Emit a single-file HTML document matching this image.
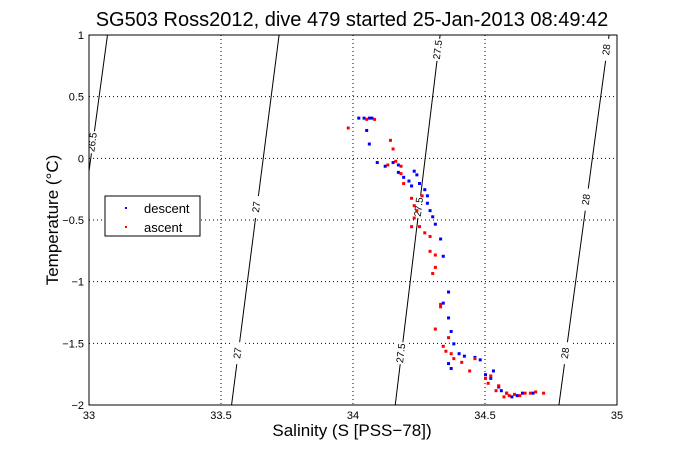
<!DOCTYPE html>
<html><head><meta charset="utf-8"><style>
body{margin:0;background:#fff;width:681px;height:454px;overflow:hidden}
svg{font-family:"Liberation Sans",sans-serif}
</style></head><body>
<svg id="chart" width="681" height="454" xmlns="http://www.w3.org/2000/svg">
<defs><clipPath id="pc"><rect x="89" y="35" width="528" height="370"/></clipPath></defs>
<text x="352" y="26" font-size="20" text-anchor="middle">SG503 Ross2012, dive 479 started 25-Jan-2013 08:49:42</text>
<text x="352" y="436" font-size="17" text-anchor="middle">Salinity (S [PSS−78])</text>
<text transform="translate(58,220) rotate(-90)" font-size="17" text-anchor="middle">Temperature (°C)</text>
<g id="grid"></g><g id="contours" clip-path="url(#pc)"></g><g id="marks"></g><g id="axes"></g>
<g>
<rect x="105" y="196" width="95" height="40" fill="#fff" stroke="#000" stroke-width="1"/>
<rect x="125" y="207" width="2" height="2" fill="#00f"/>
<text x="144" y="213" font-size="13">descent</text>
<rect x="125" y="226" width="2" height="2" fill="#f00"/>
<text x="144" y="232" font-size="13">ascent</text>
</g>
</svg>
<script>
const xTicks=[33,33.5,34,34.5,35];
const yTicks=[-2,-1.5,-1,-0.5,0,0.5,1];
const xTickLabels=["33","33.5","34","34.5","35"];
const yTickLabels=["−2","−1.5","−1","−0.5","0","0.5","1"];
const contourLevels=["26.5","27","27.5","28"];
const contourBottomS=[32.88,33.54,34.16,34.78];
const contourTopS=[33.07,33.72,34.33,34.97];
const labelFracs=[[0.71],[0.14,0.535],[0.14,0.535,0.96],[0.14,0.555,0.96]];
const descentS=[34.02,34.04,34.06,34.07,34.05,34.06,34.09,34.12,34.15,34.17,34.17,34.19,34.21,34.23,34.24,34.25,34.22,34.27,34.28,34.28,34.29,34.30,34.31,34.33,34.34,34.36,34.34,34.36,34.37,34.38,34.40,34.36,34.37,34.42,34.46,34.48,34.50,34.52,34.55,34.58,34.60,34.64,34.68,34.53,34.56,34.62];
const descentT=[0.33,0.33,0.33,0.33,0.23,0.12,-0.03,-0.06,-0.03,-0.05,-0.11,-0.15,-0.18,-0.1,-0.13,-0.2,-0.22,-0.25,-0.3,-0.36,-0.42,-0.47,-0.53,-0.65,-0.79,-1.08,-1.17,-1.29,-1.4,-1.5,-1.58,-1.66,-1.7,-1.6,-1.61,-1.63,-1.75,-1.78,-1.85,-1.9,-1.93,-1.9,-1.9,-1.72,-1.88,-1.92];
const ascentS=[33.98,34.05,34.08,34.14,34.15,34.16,34.13,34.18,34.18,34.19,34.22,34.23,34.24,34.26,34.23,34.22,34.25,34.27,34.29,34.29,34.31,34.31,34.30,34.33,34.33,34.31,34.36,34.34,34.35,34.37,34.38,34.41,34.44,34.46,34.50,34.51,34.54,34.57,34.59,34.61,34.65,34.69,34.72,34.52,34.55,34.58,34.63,34.67];
const ascentT=[0.25,0.32,0.32,0.15,0.08,-0.02,-0.05,-0.06,-0.12,-0.2,-0.32,-0.38,-0.42,-0.3,-0.48,-0.55,-0.55,-0.6,-0.63,-0.75,-0.78,-0.88,-0.93,-1.18,-1.2,-1.38,-1.45,-1.52,-1.56,-1.58,-1.62,-1.65,-1.72,-1.62,-1.78,-1.82,-1.88,-1.93,-1.92,-1.91,-1.9,-1.89,-1.9,-1.76,-1.84,-1.9,-1.92,-1.9];
const X0=89,X1=617,Y0=405,Y1=35;
const sx=s=>X0+(s-33)/2*(X1-X0);
const sy=t=>Y0-(t+2)/3*(Y0-Y1);
const NS="http://www.w3.org/2000/svg";
function mk(parent,tag,attrs){const e=document.createElementNS(NS,tag);for(const k in attrs)e.setAttribute(k,attrs[k]);document.getElementById(parent).appendChild(e);return e;}
xTicks.forEach((v,i)=>{
 if(i>0&&i<xTicks.length-1){const g=mk('grid','line',{x1:sx(v),x2:sx(v),y1:Y1,y2:Y0,stroke:'#000','stroke-dasharray':'1,3'});
 
 }
 const t=mk('axes','text',{x:sx(v),y:Y0+14,'font-size':11,'text-anchor':'middle'});t.textContent=xTickLabels[i];
 
 
});
yTicks.forEach((v,i)=>{
 if(i>0&&i<yTicks.length-1){const g=mk('grid','line',{x1:X0,x2:X1,y1:sy(v),y2:sy(v),stroke:'#000','stroke-dasharray':'1,3'});
 
 }
 const t=mk('axes','text',{x:X0-5,y:sy(v)+4,'font-size':11,'text-anchor':'end'});t.textContent=yTickLabels[i];
 
 
});
const box=mk('axes','rect',{x:X0,y:Y1,width:X1-X0,height:Y0-Y1,fill:'none',stroke:'#000','stroke-width':1});


contourLevels.forEach((lv,i)=>{
 const l=mk('contours','line',{x1:sx(contourBottomS[i]),y1:Y0,x2:sx(contourTopS[i]),y2:Y1,stroke:'#000','stroke-width':1});
 
 
 const ang=Math.atan2(Y0-Y1,sx(contourTopS[i])-sx(contourBottomS[i]))*180/Math.PI;
 labelFracs[i].forEach(f=>{
  const x=sx(contourBottomS[i])+(sx(contourTopS[i])-sx(contourBottomS[i]))*f, y=Y0-(Y0-Y1)*f;
  mk('contours','rect',{x:x-6,y:y-11,width:12,height:22,fill:'#fff'});
  const t=mk('contours','text',{x:x,y:y,'font-size':10,'text-anchor':'middle','dominant-baseline':'middle',transform:`rotate(${-ang} ${x} ${y})`});
  t.textContent=lv;
  
  
 });
});
descentS.forEach((s,i)=>{const r=mk('marks','rect',{x:sx(s)-1,y:sy(descentT[i])-1,width:3,height:3,fill:'#00f'});
 
 });
ascentS.forEach((s,i)=>{const r=mk('marks','rect',{x:sx(s)-1,y:sy(ascentT[i])-1,width:3,height:3,fill:'#f00'});
 
 });
</script>
</body></html>
